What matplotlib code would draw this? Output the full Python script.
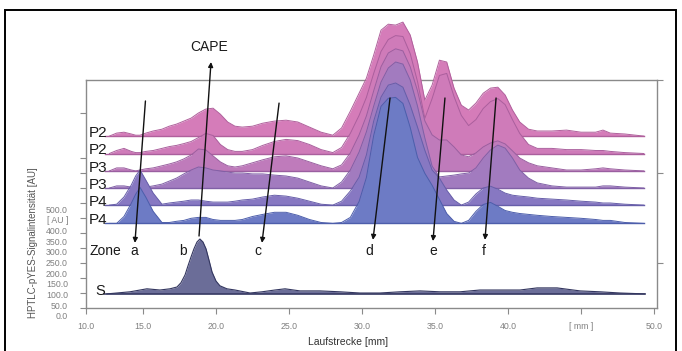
import numpy as np
import matplotlib.pyplot as plt
from matplotlib.patches import Rectangle

plt.rcParams['font.family'] = ['Liberation Sans', 'DejaVu Sans']

# =====================================================
# DATA
# =====================================================

# Laufstrecke [mm] fuer die Proben-Spuren P2..P4
pos_mm = np.array([12.7, 13.2, 13.7, 14.2, 14.5, 14.8, 15.2, 15.7, 16.3, 16.8,
                   17.3, 17.8, 18.3, 18.8, 19.3, 19.8, 20.3, 20.8, 21.3, 21.8,
                   22.5, 23.2, 24.0, 24.8, 25.6, 26.4, 27.2, 28.0, 28.6, 29.2,
                   29.8, 30.3, 30.8, 31.3, 31.8, 32.3, 32.8, 33.3, 33.8, 34.3,
                   34.8, 35.3, 35.8, 36.3, 36.8, 37.3, 37.8, 38.3, 38.8, 39.3,
                   39.8, 40.3, 40.8, 41.4, 42.0, 43.0, 44.0, 45.0, 46.0, 46.5,
                   47.0, 48.0, 49.3])

# Signal ueber der jeweiligen Grundlinie [AU], hinten (oben) -> vorne (unten)
sig_P2a = np.array([0, 10, 13, 7, 3, 3, 10, 17, 23, 33, 40, 50, 60, 77, 90, 93, 73, 47, 33, 30,
                    33, 43, 50, 53, 47, 30, 13, 3, 27, 83, 143, 193, 270, 353, 373, 370, 380, 337, 247, 120,
                    170, 253, 247, 160, 103, 87, 110, 143, 160, 163, 137, 87, 47, 23, 17, 17, 20, 13, 13, 20,
                    10, 7, 0])
sig_P2b = np.array([0, 10, 17, 7, 3, 3, 7, 10, 17, 23, 27, 33, 40, 53, 67, 60, 30, 13, 7, 7,
                    13, 27, 40, 47, 43, 30, 13, 3, 20, 67, 127, 187, 267, 340, 380, 393, 390, 333, 240, 117,
                    183, 260, 267, 190, 127, 93, 113, 150, 173, 183, 163, 113, 67, 30, 17, 17, 13, 13, 10, 10,
                    7, 3, 0])
sig_P3a = np.array([0, 10, 10, 3, 0, 3, 7, 10, 17, 23, 30, 40, 53, 73, 70, 50, 30, 17, 13, 17,
                    27, 37, 47, 50, 43, 30, 17, 7, 20, 60, 120, 183, 267, 347, 393, 407, 400, 347, 267, 167,
                    120, 103, 103, 80, 53, 47, 60, 80, 93, 100, 90, 67, 43, 27, 17, 10, 3, 3, 7, 10,
                    7, 3, 0])
sig_P3b = np.array([0, 7, 7, 3, 3, 3, 3, 7, 13, 23, 33, 47, 60, 70, 67, 60, 57, 53, 50, 50,
                    47, 47, 43, 40, 33, 20, 7, 0, 20, 60, 120, 187, 273, 353, 400, 420, 413, 360, 273, 167,
                    73, 37, 40, 43, 47, 50, 67, 100, 127, 143, 133, 100, 60, 33, 17, 7, 3, 3, 3, 7,
                    7, 3, 0])
sig_P4a = np.array([0, 3, 27, 67, 97, 117, 83, 40, 3, 7, 10, 13, 17, 17, 13, 10, 10, 10, 13, 17,
                    20, 27, 33, 30, 23, 13, 3, 0, 13, 47, 93, 167, 280, 360, 400, 407, 393, 333, 260, 183,
                    117, 90, 50, 17, 0, 10, 37, 57, 63, 53, 40, 33, 30, 27, 23, 20, 17, 13, 10, 7,
                    7, 3, 0])
sig_P4b = np.array([0, 0, 23, 67, 97, 120, 87, 40, 3, 3, 7, 10, 17, 20, 20, 13, 10, 10, 10, 13,
                    23, 30, 37, 37, 27, 13, 3, 0, 3, 20, 73, 153, 293, 390, 417, 420, 400, 320, 220, 167,
                    127, 80, 33, 7, 0, 10, 40, 63, 70, 57, 43, 37, 33, 30, 27, 23, 20, 17, 13, 10,
                    10, 3, 0])

track_signals = [sig_P2a, sig_P2b, sig_P3a, sig_P3b, sig_P4a, sig_P4b]
track_labels = ['P2', 'P2', 'P3', 'P3', 'P4', 'P4']
track_base = [573, 515, 457, 400, 343, 282]
track_fill = ['#d57cb9', '#cf7bb9', '#bf7bbb', '#a27bbf', '#8778c2', '#6d7bc5']
track_edge = ['#b0609c', '#aa5f9d', '#9a5fa0', '#8060a6', '#675ea9', '#4d5eab']

# Standard S (CAPE)
pos_S = np.array([12.53, 14.11, 15.27, 16.16, 16.85, 17.33, 17.60, 17.88, 18.08, 18.29,
                  18.49, 18.70, 18.90, 19.11, 19.32, 19.52, 19.73, 20.00, 20.27, 20.75,
                  21.30, 22.33, 23.15, 24.04, 24.73, 25.75, 27.12, 28.49, 29.86, 31.23,
                  32.60, 33.97, 35.34, 36.71, 38.08, 39.45, 40.82, 41.99, 43.36, 44.93,
                  46.30, 47.67, 49.38])
sig_S = np.array([0, 7, 17, 13, 17, 23, 37, 63, 93, 123,
                  150, 173, 183, 173, 150, 113, 73, 43, 27, 17,
                  13, 3, 7, 13, 17, 10, 10, 7, 3, 3,
                  7, 10, 7, 7, 13, 13, 13, 20, 20, 10,
                  7, 3, 0])
base_S = 47

zones = ['a', 'b', 'c', 'd', 'e', 'f']
zone_mm = [14.38, 17.74, 22.88, 30.48, 34.86, 38.36]

# Pfeile: (x oben, y oben, x unten, y unten)
zone_arrows = [(15.17, 690, 14.45, 217),
               (24.32, 683, 23.15, 217),
               (31.92, 700, 30.75, 227),
               (35.68, 700, 34.86, 223),
               (39.18, 700, 38.42, 227)]
cape_arrow = (18.84, 240, 19.66, 820)

xtick_pos = [11.1, 15, 20, 25, 30, 35, 40, 45, 50]
xtick_lab = ['10.0', '15.0', '20.0', '25.0', '30.0', '35.0', '40.0', '[ mm ]', '50.0']
ylab_pos = [0, 50, 100, 150, 200, 250, 300, 350, 400, 450, 500]
ylab_txt = ['0.0', '50.0', '100.0', '150.0', '200.0', '250.0', '300.0',
            '350.0', '400.0', '[ AU ]', '500.0']

# =====================================================
# PLOT
# =====================================================

W, H = 682, 351
fig = plt.figure(figsize=(W / 100, H / 100), dpi=100)
ax = fig.add_axes([86 / W, (H - 308) / H, 571 / W, 228 / H])
ax.set_xlim(11.1, 50.2)
ax.set_ylim(0, 760)

grey = '#8a8a8a'
for s in ax.spines.values():
    s.set_color(grey)
    s.set_linewidth(1.0)
    s.set_zorder(1)

ax.set_xticks(xtick_pos)
ax.set_xticklabels(xtick_lab)
ax.set_yticks([0, 50, 100, 150, 200, 250, 300, 350, 400, 450, 500, 650])
ax.tick_params(axis='both', direction='out', length=4, width=0.8, color=grey)
ax.tick_params(axis='y', labelleft=False)
ax.tick_params(axis='x', labelsize=6.3, labelcolor='#808080', pad=6)

twin = ax.twinx()
twin.set_ylim(0, 760)
twin.set_yticks([150, 450, 760])
twin.tick_params(axis='y', direction='out', length=4, width=0.8, color=grey, labelright=False)
for s in twin.spines.values():
    s.set_visible(False)

# Beschriftung der y-Achse (eigene Skala)
lab = fig.add_axes([86 / W, (H - 320) / H, 0.001, 120 / H])
lab.set_ylim(-20.2, 544)
lab.set_yticks(ylab_pos)
lab.set_yticklabels(ylab_txt)
lab.set_xticks([])
lab.tick_params(axis='y', length=0, pad=13, labelsize=6.3, labelcolor='#808080')
lab.patch.set_visible(False)
for s in lab.spines.values():
    s.set_visible(False)

# Spuren von hinten nach vorne
for i, (sig, name, b) in enumerate(zip(track_signals, track_labels, track_base)):
    z = 3 + i * 3
    ax.fill_between(pos_mm, b, b + sig, color=track_fill[i], lw=0, clip_on=False, zorder=z)
    ax.plot(pos_mm, b + sig, color=track_edge[i], lw=0.7, clip_on=False, zorder=z + 1)
    ax.plot([12.4, 49.3], [b, b], color=track_edge[i], lw=1.0, clip_on=False, zorder=z + 1)
    ax.text(11.3, b - 2, name, fontsize=11, color='#1a1a1a', va='baseline', ha='left', zorder=40)

ax.fill_between(pos_S, base_S, base_S + sig_S, color='#6b6d98', lw=0, zorder=25)
ax.plot(pos_S, base_S + sig_S, color='#33365f', lw=0.8, zorder=26)
ax.plot([12.3, 49.4], [base_S, base_S], color='#33365f', lw=1.1, zorder=26)
ax.text(11.71, base_S - 4, 'S', fontsize=10.5, color='#1a1a1a', va='baseline', ha='left', zorder=40)

# Zonen
ax.text(11.37, 190, 'Zone', fontsize=10, color='#1a1a1a', va='center', ha='left', zorder=40)
for z_name, z_x in zip(zones, zone_mm):
    ax.text(z_x, 190, z_name, fontsize=10, color='#1a1a1a', va='center', ha='center', zorder=40)

arrow_style = dict(arrowstyle='-|>', color='#111111', lw=1.0, mutation_scale=7,
                   shrinkA=0, shrinkB=0)
for x0, y0, x1, y1 in zone_arrows:
    ax.annotate('', xy=(x1, y1), xytext=(x0, y0), arrowprops=arrow_style,
                annotation_clip=False, zorder=35)
ax.annotate('', xy=(cape_arrow[2], cape_arrow[3]), xytext=(cape_arrow[0], cape_arrow[1]),
            arrowprops=arrow_style, annotation_clip=False, zorder=35)
ax.text(19.52, 870, 'CAPE', fontsize=10, color='#1a1a1a', ha='center', va='center',
        clip_on=False, zorder=40)

fig.text(348 / W, 1 - 342 / H, 'Laufstrecke [mm]', fontsize=7.5, color='#333333',
         ha='center', va='center')
fig.text(33 / W, 1 - 243 / H, 'HPTLC-pYES-Signalintensität [AU]', fontsize=7,
         color='#555555', rotation=90, ha='center', va='center')

# Rahmen
fig.add_artist(Rectangle((4.5 / W, -0.1), (676 - 4.5) / W, 1.1 - 9.5 / H,
                         transform=fig.transFigure, fill=False, ec='black', lw=1.4))

fig.savefig('out.png', dpi=100)
